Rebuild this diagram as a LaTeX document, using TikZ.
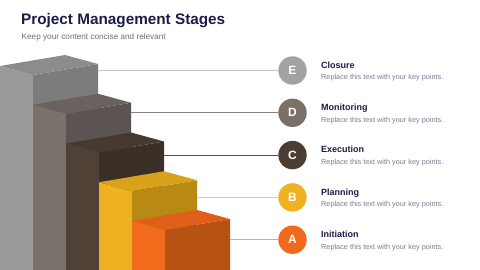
\documentclass[tikz,border=0pt]{standalone}
\usepackage{fontspec}
\setmainfont{Liberation Sans}
\definecolor{navy}{HTML}{1C1C4A}
\definecolor{subgray}{HTML}{6E6E82}
\definecolor{descgray}{HTML}{7C7C92}
% E
\definecolor{eL}{HTML}{9B9999}\definecolor{eR}{HTML}{7D7B7B}\definecolor{eT}{HTML}{8D8B8B}
\definecolor{eC}{HTML}{A3A1A1}\definecolor{eLn}{HTML}{C4C3C3}
% D
\definecolor{dL}{HTML}{7B716C}\definecolor{dR}{HTML}{5C5452}\definecolor{dT}{HTML}{6A6260}
\definecolor{dC}{HTML}{7B7068}\definecolor{dLn}{HTML}{8A807A}
% C
\definecolor{cL}{HTML}{4F4136}\definecolor{cR}{HTML}{3B3027}\definecolor{cT}{HTML}{463A30}
\definecolor{cC}{HTML}{4A3E33}\definecolor{cLn}{HTML}{5A4E44}
% B
\definecolor{bL}{HTML}{EEB220}\definecolor{bR}{HTML}{B88A14}\definecolor{bT}{HTML}{D9A21A}
\definecolor{bC}{HTML}{EFB321}\definecolor{bLn}{HTML}{F3CC6A}
% A
\definecolor{aL}{HTML}{F26B1D}\definecolor{aR}{HTML}{B85212}\definecolor{aT}{HTML}{E05F18}
\definecolor{aC}{HTML}{F06A1E}\definecolor{aLn}{HTML}{F5A070}
\newcommand\stagebar[5]{%
  \fill[#3] ({#1-33},{#2-9}) -- (#1,#2) -- (#1,270) -- ({#1-33},270) -- cycle;
  \fill[#4] (#1,#2) -- ({#1+65},{#2-11}) -- ({#1+65},270) -- (#1,270) -- cycle;
  \fill[#5] (#1,#2) -- ({#1-33},{#2-9}) -- ({#1+32},{#2-20}) -- ({#1+65},{#2-11}) -- cycle;
}
\begin{document}
\begin{tikzpicture}[x=1pt,y=-1pt,
  stagecirc/.style={circle,inner sep=0pt,minimum size=28.4pt,text=white,font=\fontsize{12}{12}\selectfont\bfseries},
  ttl/.style={anchor=base west,inner sep=0pt,text=navy,font=\fontsize{9}{9}\selectfont\bfseries},
  dsc/.style={anchor=base west,inner sep=0pt,text=descgray,font=\fontsize{7.3}{7.3}\selectfont},
  conn/.style={line width=0.8pt}]
\useasboundingbox (0,0) rectangle (480,270);
\fill[white] (0,0) rectangle (480,270);
\node[anchor=base west,inner sep=0pt,text=navy,font=\fontsize{15.3}{15.3}\selectfont\bfseries] (title) at (21,25) {Project Management Stages};
\node[anchor=base west,inner sep=0pt,text=subgray,font=\fontsize{8.2}{8.2}\selectfont] (subtitle) at (21.5,39.5) {Keep your content concise and relevant};
% bars
\stagebar{33}{75}{eL}{eR}{eT}
\stagebar{66}{113.75}{dL}{dR}{dT}
\stagebar{99}{152.5}{cL}{cR}{cT}
\stagebar{132}{191.25}{bL}{bR}{bT}
\stagebar{165}{230}{aL}{aR}{aT}
% connector start points
\coordinate (pE) at (98,70.5);
\coordinate (pD) at (131,112.8);
\coordinate (pC) at (164,155.1);
\coordinate (pB) at (197,197.4);
\coordinate (pA) at (230,239.7);
% circles
\node[stagecirc,fill=eC] (cE) at (292.5,70.5) {E};
\node[stagecirc,fill=dC] (cD) at (292.5,112.8) {D};
\node[stagecirc,fill=cC] (cC) at (292.5,155.1) {C};
\node[stagecirc,fill=bC] (cB) at (292.5,197.4) {B};
\node[stagecirc,fill=aC] (cA) at (292.5,239.7) {A};
\draw[conn,eLn] (pE) -- (cE);
\draw[conn,dLn] (pD) -- (cD);
\draw[conn,cLn] (pC) -- (cC);
\draw[conn,bLn] (pB) -- (cB);
\draw[conn,aLn] (pA) -- (cA);
% texts
\node[ttl] (tE) at (321,68.3) {Closure};
\node[dsc] (dE) at (321,80) {Replace this text with your key points.};
\node[ttl] (tD) at (321,110.6) {Monitoring};
\node[dsc] (dD) at (321,122.3) {Replace this text with your key points.};
\node[ttl] (tC) at (321,152.9) {Execution};
\node[dsc] (dC) at (321,164.6) {Replace this text with your key points.};
\node[ttl] (tB) at (321,195.2) {Planning};
\node[dsc] (dB) at (321,206.9) {Replace this text with your key points.};
\node[ttl] (tA) at (321,237.5) {Initiation};
\node[dsc] (dA) at (321,249.2) {Replace this text with your key points.};
\end{tikzpicture}
\end{document}
